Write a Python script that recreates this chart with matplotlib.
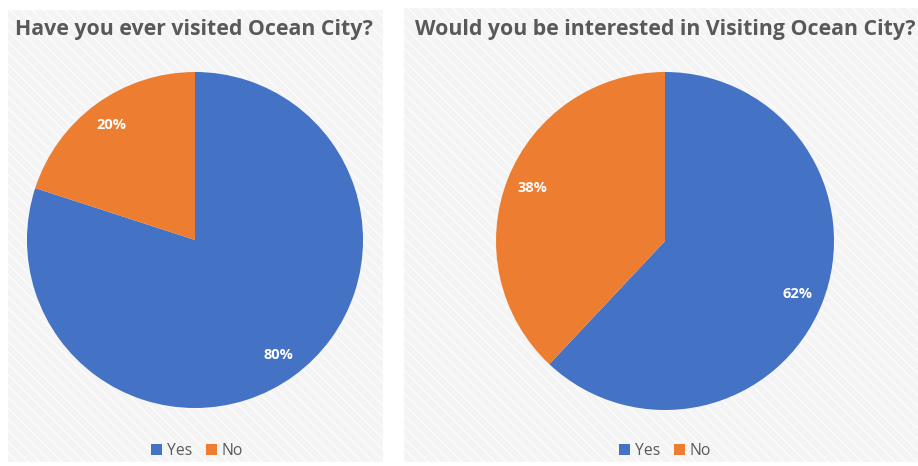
import matplotlib.pyplot as plt
from matplotlib.patches import Rectangle, Patch

plt.rcParams['font.family'] = ['Open Sans', 'DejaVu Sans']
plt.rcParams['hatch.linewidth'] = 1.0

answers = ['Yes', 'No']
visited = [80, 20]
interested = [62, 38]
titles = ['Have you ever visited Ocean City?',
          'Would you be interested in Visiting Ocean City?']

colors = ['#4472C4', '#ED7D31']
text_grey = '#595959'

W, H = 918, 466
fig = plt.figure(figsize=(W / 100, H / 100), dpi=100)
fig.patch.set_facecolor('white')


def px_box(x0, y0, x1, y1):
    # pixel box (top-left origin) -> figure fraction rect
    return [x0 / W, (H - y1) / H, (x1 - x0) / W, (y1 - y0) / H]


def panel(box, title, title_x, values, pie_box, legend_x):
    l, b, w, h = px_box(*box)
    fig.patches.append(Rectangle((l, b), w, h, transform=fig.transFigure,
                                 facecolor='#f4f4f4', edgecolor='#fcfcfc',
                                 hatch='\\\\\\', linewidth=0, zorder=-5))
    fig.text(title_x / W, 1 - 30 / H, title, ha='center', va='center',
             fontsize=15.3, fontweight='bold', color=text_grey)

    ax = fig.add_axes(px_box(*pie_box))
    ax.pie(values, colors=colors, startangle=90, counterclock=False,
           labels=[f'{v}%' for v in values], labeldistance=0.845,
           textprops=dict(color='white', fontsize=10.5, fontweight='bold',
                          ha='center', va='center'))
    ax.set_xlim(-1, 1)
    ax.set_ylim(-1, 1)
    ax.set_aspect('equal')
    ax.axis('off')

    handles = [Patch(facecolor=c, edgecolor='none') for c in colors]
    fig.legend(handles, answers, loc='center',
               bbox_to_anchor=(legend_x / W, 1 - 451 / H), ncol=2,
               frameon=False, handlelength=0.7, handleheight=0.7,
               handletextpad=0.3, columnspacing=0.9,
               prop=dict(size=11.3), labelcolor=text_grey)


panel((8, 10, 383, 462), titles[0], 194, visited, (27, 72, 363, 408), 197)
panel((404, 8, 918, 462), titles[1], 665, interested, (496, 72, 834, 410), 665)

fig.savefig('out.png', dpi=100)
